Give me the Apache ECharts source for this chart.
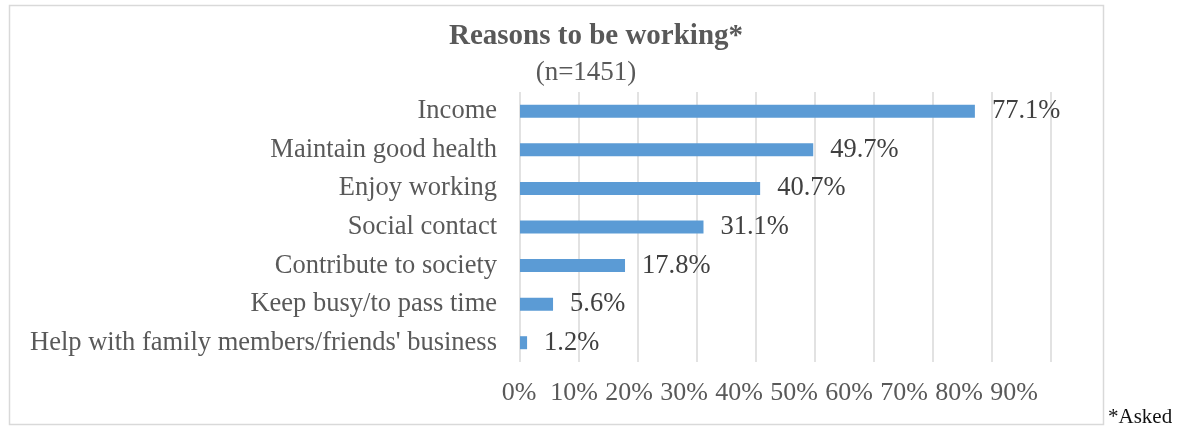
<!DOCTYPE html>
<html>
<head>
<meta charset="utf-8">
<script src="https://cdn.jsdelivr.net/npm/echarts@6/dist/echarts.min.js"></script>
<style>
  html, body { margin: 0; padding: 0; background: #ffffff; }
  #chart { width: 1184px; height: 430px; }
</style>
</head>
<body>
<div id="chart"></div>
<script>
// Reasons given by respondents for working (share of respondents, %)
const categories = [
  'Income',
  'Maintain good health',
  'Enjoy working',
  'Social contact',
  'Contribute to society',
  'Keep busy/to pass time',
  "Help with family members/friends' business"
];
const shares = [77.1, 49.7, 40.7, 31.1, 17.8, 5.6, 1.2];
const axisMax = 90;
const axisStep = 10;

const serif = '"Liberation Serif", "Times New Roman", serif';

const chart = echarts.init(document.getElementById('chart'));

chart.setOption({
  animation: false,
  backgroundColor: '#ffffff',
  grid: [
    { left: 520, right: 133, top: 92, bottom: 68 },
    // second grid only carries the percentage tick labels
    { left: 519, right: 170, top: 92, bottom: 68 }
  ],
  xAxis: [
    {
      type: 'value', gridIndex: 0, min: 0, max: axisMax, interval: axisStep,
      axisLine: { show: false }, axisTick: { show: false },
      axisLabel: { show: false },
      splitLine: { show: true, lineStyle: { color: '#D9D9D9', width: 1.5 } }
    },
    {
      type: 'value', gridIndex: 1, min: 0, max: axisMax, interval: axisStep,
      axisLine: { show: false }, axisTick: { show: false },
      splitLine: { show: false },
      axisLabel: {
        show: true, margin: 18, formatter: '{value}%',
        fontFamily: serif, fontSize: 26, lineHeight: 26, color: '#595959'
      }
    }
  ],
  yAxis: [
    {
      type: 'category', gridIndex: 0, data: categories, inverse: true,
      axisLine: { show: false }, axisTick: { show: false },
      axisLabel: {
        margin: 23, fontFamily: serif, fontSize: 26.5, color: '#595959'
      }
    },
    { type: 'category', gridIndex: 1, data: categories, show: false }
  ],
  series: [{
    type: 'bar',
    xAxisIndex: 0, yAxisIndex: 0,
    data: shares,
    barWidth: 13,
    itemStyle: { color: '#5B9BD5' },
    label: {
      show: true, position: 'right', distance: 17,
      fontFamily: serif, fontSize: 26.5, color: '#404040',
      formatter: p => p.value.toFixed(1) + '%'
    }
  }],
  graphic: [
    {
      type: 'rect', silent: true,
      shape: { x: 9.5, y: 5.5, width: 1094, height: 419 },
      style: { fill: 'none', stroke: '#D9D9D9', lineWidth: 1.5 }
    },
    {
      type: 'text', x: 596, y: 37,
      style: {
        text: 'Reasons to be working*', textAlign: 'center', textVerticalAlign: 'middle',
        fontFamily: serif, fontSize: 29, fontWeight: 'bold', fill: '#595959'
      }
    },
    {
      type: 'text', x: 586, y: 73,
      style: {
        text: '(n=1451)', textAlign: 'center', textVerticalAlign: 'middle',
        fontFamily: serif, fontSize: 27, fill: '#595959'
      }
    },
    {
      type: 'text', x: 1108, y: 417,
      style: {
        text: '*Asked', textAlign: 'left', textVerticalAlign: 'middle',
        fontFamily: serif, fontSize: 21, fill: '#111111'
      }
    }
  ]
});
</script>
</body>
</html>
